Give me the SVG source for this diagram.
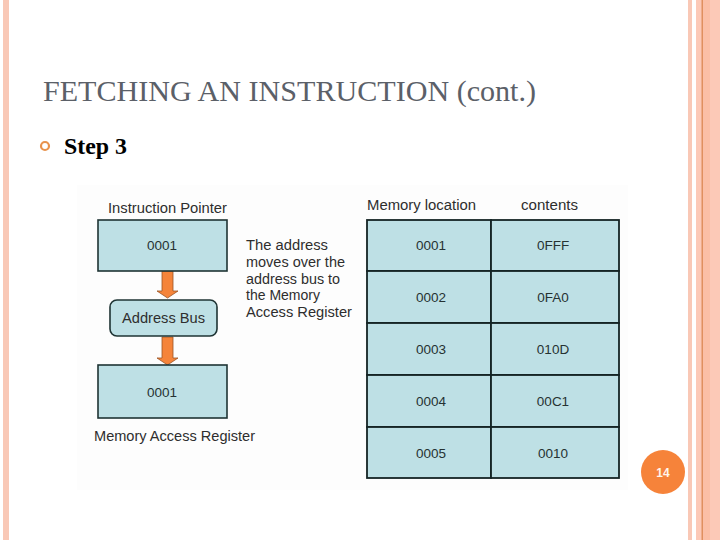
<svg xmlns="http://www.w3.org/2000/svg" width="720" height="540" viewBox="0 0 720 540">
<style>
.box{fill:#bee0e5;stroke:#1f3434;stroke-width:1.6}
.cell{fill:#bee0e5;stroke:#142424;stroke-width:1.8}
.t{font-family:"Liberation Sans",Arial,sans-serif;font-size:14px;fill:#2e2e2e}
.c{font-family:"Liberation Sans",Arial,sans-serif;font-size:13.5px;fill:#263232;text-anchor:middle}
.arrow{fill:#f5843a;stroke:#9a5424;stroke-width:0.8}
</style>
<rect width="720" height="540" fill="#ffffff"/>
<!-- slide borders -->
<rect x="3" y="0" width="6" height="540" fill="#f9c8b6"/>
<rect x="688" y="0" width="4" height="540" fill="#f9c8b6"/>
<rect x="696" y="0" width="24" height="540" fill="#fcc9b7"/>
<rect x="703" y="0" width="7" height="540" fill="#fbbfa6"/>
<rect x="701.5" y="0" width="1.5" height="540" fill="#e0905f"/>
<!-- picture background -->
<rect x="77" y="185" width="551" height="305" fill="#fdfdfd"/>
<!-- title -->
<text x="43" y="101" font-family="'Liberation Serif','Times New Roman',serif" font-size="30" fill="#5b6068" textLength="493" lengthAdjust="spacingAndGlyphs">FETCHING AN INSTRUCTION (cont.)</text>
<circle cx="45" cy="146" r="4" fill="none" stroke="#e8924c" stroke-width="2.2"/>
<text x="64" y="154" font-family="'Liberation Serif','Times New Roman',serif" font-size="23" font-weight="bold" fill="#000" textLength="63" lengthAdjust="spacingAndGlyphs">Step 3</text>
<!-- connectors -->
<g id="connectors">
<path class="arrow" d="M162,271 L173,271 L173,291 L178,291 L167.5,298 L157,291 L162,291 Z"/>
<path class="arrow" d="M162,337 L173,337 L173,358 L178,358 L167.5,365 L157,358 L162,358 Z"/>
</g>
<g id="instruction-pointer">
<text class="t" x="108" y="213" textLength="119" lengthAdjust="spacingAndGlyphs">Instruction Pointer</text>
<rect class="box" x="98" y="220" width="129" height="51"/>
<text class="c" x="162" y="250">0001</text>
</g>
<g id="address-bus">
<rect class="box" x="110" y="300" width="107" height="36" rx="7"/>
<text class="t" x="163.5" y="323" text-anchor="middle" textLength="83" lengthAdjust="spacingAndGlyphs">Address Bus</text>
</g>
<g id="memory-access-register">
<rect class="box" x="98" y="365" width="129" height="53"/>
<text class="c" x="162" y="397">0001</text>
<text class="t" x="94" y="441" textLength="161" lengthAdjust="spacingAndGlyphs">Memory Access Register</text>
</g>
<g id="explanation">
<text class="t" x="246" y="250" textLength="82" lengthAdjust="spacingAndGlyphs">The address</text>
<text class="t" x="246" y="267" textLength="99" lengthAdjust="spacingAndGlyphs">moves over the</text>
<text class="t" x="246" y="284" textLength="94" lengthAdjust="spacingAndGlyphs">address bus to</text>
<text class="t" x="246" y="300" textLength="74" lengthAdjust="spacingAndGlyphs">the Memory</text>
<text class="t" x="246" y="317" textLength="106" lengthAdjust="spacingAndGlyphs">Access Register</text>
</g>
<g id="memory-table">
<text class="t" x="367" y="210" textLength="109" lengthAdjust="spacingAndGlyphs">Memory location</text>
<text class="t" x="549.5" y="210" text-anchor="middle" textLength="57" lengthAdjust="spacingAndGlyphs">contents</text>
<rect class="cell" x="367" y="220" width="124" height="51"/>
<rect class="cell" x="491" y="220" width="128" height="51"/>
<rect class="cell" x="367" y="271" width="124" height="52"/>
<rect class="cell" x="491" y="271" width="128" height="52"/>
<rect class="cell" x="367" y="323" width="124" height="52"/>
<rect class="cell" x="491" y="323" width="128" height="52"/>
<rect class="cell" x="367" y="375" width="124" height="52"/>
<rect class="cell" x="491" y="375" width="128" height="52"/>
<rect class="cell" x="367" y="427" width="124" height="51"/>
<rect class="cell" x="491" y="427" width="128" height="51"/>
<text class="c" x="431" y="250">0001</text><text class="c" x="553" y="250">0FFF</text>
<text class="c" x="431" y="302">0002</text><text class="c" x="553" y="302">0FA0</text>
<text class="c" x="431" y="354">0003</text><text class="c" x="553" y="354">010D</text>
<text class="c" x="431" y="406">0004</text><text class="c" x="553" y="406">00C1</text>
<text class="c" x="431" y="458">0005</text><text class="c" x="553" y="458">0010</text>
</g>
<g id="page-number">
<circle cx="663" cy="472" r="22" fill="#f6833a"/>
<text x="663" y="476.5" text-anchor="middle" font-family="'Liberation Sans',Arial,sans-serif" font-size="12" font-weight="bold" fill="#fff5ec">14</text>
</g>
</svg>
